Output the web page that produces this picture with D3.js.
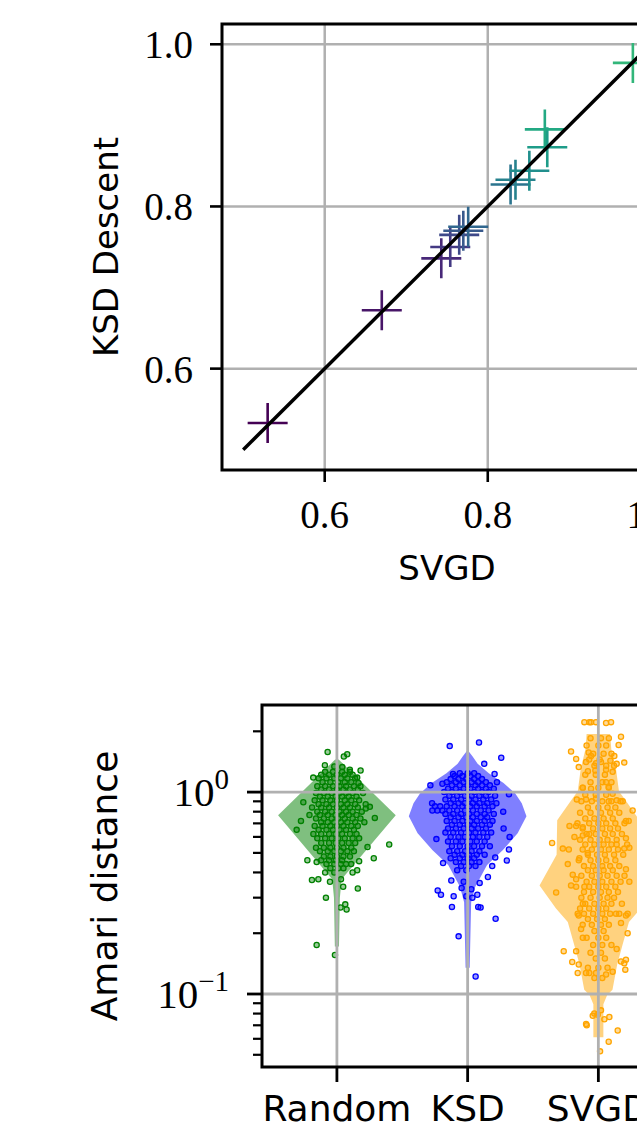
<!DOCTYPE html>
<html>
<head>
<meta charset="utf-8">
<script src="https://cdn.jsdelivr.net/npm/d3@7"></script>
<style>
body { margin: 0; background: #fff; }
svg { display: block; }
.num { font-family: "Liberation Serif", "DejaVu Serif", serif; fill: #000; }
.lab { font-family: "DejaVu Sans", sans-serif; fill: #000; }
</style>
</head>
<body>
<div id="chart"></div>
<script>
// ---- top panel: KSD Descent vs SVGD ----
var svgdScores = [0.530, 0.670, 0.743, 0.754, 0.765, 0.770, 0.776, 0.828, 0.834, 0.851, 0.873, 0.870, 0.978];
var ksdScores  = [0.533, 0.672, 0.736, 0.750, 0.765, 0.770, 0.775, 0.827, 0.833, 0.844, 0.873, 0.895, 0.977];
var scatterTicks = [0.6, 0.8, 1.0];
var identityEnds = [0.5, 1.0];

// ---- bottom panel: Amari distance per method ----
var methods = ["Random", "KSD", "SVGD"];
var methodColors = ["#008000", "#0000ff", "#ffa500"];
var logMajor = [0.1, 1];
var logMinor = [0.05, 0.06, 0.07, 0.08, 0.09, 0.2, 0.3, 0.4, 0.5, 0.6, 0.7, 0.8, 0.9, 2];

// violin outlines: [value, relative half width]
var randomShape = [[1.45, 0.03], [0.768, 1.0], [0.37, 0.08], [0.30, 0.05], [0.172, 0.035]];
var ksdShape = [[1.614, 0.0], [1.50, 0.085], [1.38, 0.17], [1.24, 0.36], [1.11, 0.61], [0.985, 0.81],
  [0.88, 0.92], [0.76, 1.0], [0.625, 0.85], [0.516, 0.6], [0.435, 0.33], [0.34, 0.13], [0.285, 0.06], [0.135, 0.035]];
var svgdShape = [[1.94, 0.2], [1.63, 0.22], [1.30, 0.30], [1.01, 0.35], [0.93, 0.44], [0.725, 0.70], [0.49, 0.71],
  [0.345, 1.0], [0.265, 0.72], [0.227, 0.52], [0.175, 0.41], [0.14, 0.32], [0.105, 0.24], [0.099, 0.15],
  [0.089, 0.085], [0.061, 0.085]];

// scattered runs: [jitter, value]
var randomOuter = [[-0.071,1.58],[0.079,1.54],[0.053,1.50],[-0.092,1.36],[0.181,1.28],[0.099,1.29],[0.041,1.33],
  [-0.02,1.34],[-0.181,1.18],[0.155,1.18],[0.165,1.11],[-0.257,0.89],[-0.275,0.72],[-0.308,0.65],[0.29,0.745],
  [0.252,0.845],[0.221,0.83],[0.40,0.55],[0.234,0.535],[0.282,0.47],[-0.226,0.46],[-0.155,0.45],[0.155,0.41],
  [0.12,0.40],[0.109,0.44],[0.17,0.455],[-0.191,0.367],[-0.142,0.37],[-0.053,0.36],[0.031,0.37],[0.048,0.34],
  [0.16,0.333],[-0.084,0.30],[0.064,0.278],[0.028,0.268],[0.074,0.262],[-0.155,0.175],[-0.015,0.156]];
// dense middle: [value, jitters]
var randomCore = [[1.26,[-0.09,-0.03,0.04,0.10]],[1.22,[-0.12,-0.06,0.0,0.06,0.12]],
  [1.17,[-0.14,-0.08,-0.02,0.03,0.08,0.14]],[1.12,[-0.11,-0.05,0.01,0.06,0.11]],
  [1.07,[-0.15,-0.09,-0.03,0.02,0.07,0.13,0.18]],[1.03,[-0.12,-0.06,0.0,0.05,0.10,0.16]],
  [0.99,[-0.16,-0.10,-0.04,0.02,0.07,0.12,0.2]],[0.95,[-0.13,-0.07,-0.01,0.04,0.09,0.15]],
  [0.91,[-0.17,-0.11,-0.05,0.0,0.06,0.11,0.17]],[0.87,[-0.14,-0.08,-0.03,0.03,0.08,0.14,0.22]],
  [0.84,[-0.19,-0.12,-0.06,0.0,0.05,0.10,0.16]],[0.80,[-0.15,-0.09,-0.04,0.02,0.07,0.12,0.19]],
  [0.77,[-0.21,-0.13,-0.07,-0.01,0.04,0.09,0.15]],[0.74,[-0.16,-0.10,-0.04,0.01,0.06,0.12,0.18]],
  [0.71,[-0.12,-0.07,-0.02,0.03,0.08,0.14,0.21]],[0.68,[-0.17,-0.11,-0.05,0.0,0.05,0.11,0.16]],
  [0.65,[-0.14,-0.08,-0.03,0.02,0.07,0.13]],[0.62,[-0.18,-0.12,-0.06,-0.01,0.04,0.10,0.15]],
  [0.59,[-0.15,-0.09,-0.04,0.01,0.06,0.12,0.17]],[0.56,[-0.12,-0.06,-0.01,0.04,0.09,0.14]],
  [0.53,[-0.16,-0.10,-0.05,0.0,0.05,0.11]],[0.51,[-0.13,-0.07,-0.02,0.03,0.08,0.13]],
  [0.48,[-0.10,-0.05,0.0,0.05,0.10]],[0.46,[-0.12,-0.06,-0.01,0.04]],[0.44,[-0.08,-0.02,0.03,0.07]],
  [0.42,[-0.05,0.01,0.05]],[0.40,[-0.09,-0.02]]];

var ksdOuter = [[-0.137,1.69],[0.087,1.76],[0.257,1.48],[0.127,1.38],[0.206,1.23],[0.224,1.12],[-0.285,1.08],
  [-0.193,1.10],[-0.112,1.23],[0.316,0.975],[-0.272,0.88],[-0.27,0.81],[-0.232,0.81],[-0.193,0.81],[0.272,0.80],
  [0.275,0.66],[0.321,0.60],[-0.239,0.585],[0.316,0.52],[0.211,0.475],[0.30,0.458],[-0.188,0.445],[0.188,0.43],
  [-0.125,0.365],[0.155,0.38],[0.092,0.355],[-0.229,0.326],[-0.204,0.31],[-0.107,0.305],[-0.12,0.27],[0.074,0.31],
  [0.081,0.27],[0.099,0.268],[0.214,0.236],[-0.069,0.193],[0.061,0.122],[0.028,0.33],[-0.01,0.305],[0.036,0.30],
  [-0.046,0.335],[-0.03,0.36]];
var ksdCore = [[1.24,[-0.06,0.0,0.05]],[1.20,[-0.10,-0.04,0.02,0.08]],[1.16,[-0.13,-0.07,-0.01,0.05,0.11]],
  [1.12,[-0.16,-0.09,-0.03,0.03,0.08,0.14]],[1.08,[-0.12,-0.06,0.0,0.06,0.11,0.17]],
  [1.04,[-0.15,-0.09,-0.03,0.02,0.08,0.14,0.2]],[1.00,[-0.18,-0.12,-0.06,0.0,0.05,0.11,0.16]],
  [0.96,[-0.14,-0.08,-0.02,0.03,0.09,0.14,0.21]],[0.92,[-0.17,-0.11,-0.05,0.01,0.06,0.12,0.18]],
  [0.88,[-0.13,-0.07,-0.02,0.04,0.09,0.15,0.22]],[0.85,[-0.25,-0.21,-0.16,-0.10,-0.04,0.02,0.07,0.13,0.19]],
  [0.81,[-0.14,-0.08,-0.02,0.04,0.10,0.16]],[0.78,[-0.17,-0.11,-0.05,0.01,0.07,0.13,0.2]],
  [0.75,[-0.13,-0.07,-0.01,0.04,0.10,0.15]],[0.72,[-0.16,-0.10,-0.04,0.02,0.07,0.13,0.19]],
  [0.69,[-0.12,-0.06,0.0,0.05,0.11,0.17]],[0.66,[-0.15,-0.09,-0.03,0.03,0.08,0.14]],
  [0.63,[-0.17,-0.11,-0.05,0.01,0.06,0.12,0.18]],[0.60,[-0.13,-0.07,-0.02,0.04,0.09,0.15]],
  [0.57,[-0.15,-0.09,-0.04,0.02,0.07,0.13]],[0.54,[-0.12,-0.06,0.0,0.05,0.11,0.17]],
  [0.51,[-0.14,-0.08,-0.02,0.03,0.09]],[0.49,[-0.10,-0.04,0.01,0.07,0.13]],[0.47,[-0.13,-0.06,0.0,0.05]],
  [0.45,[-0.09,-0.03,0.03,0.09]],[0.43,[-0.05,0.01,0.06]],[0.41,[-0.08,-0.01]]];

var svgdOuter = [[-0.107,2.22],[-0.069,2.22],[-0.056,2.22],[-0.018,2.22],[0.059,2.20],[0.097,2.22],[0.173,1.88],
  [0.155,1.71],[-0.209,1.59],[-0.17,1.46],[-0.074,1.57],[-0.056,1.51],[0.122,1.51],[0.198,1.40],[0.14,1.38],
  [-0.15,1.33],[-0.094,1.41],[-0.018,1.39],[0.02,1.41],[0.092,1.43],[-0.08,1.27],[-0.023,1.28],[0.059,1.29],
  [0.109,1.26],[0.059,1.12],[-0.119,1.05],[-0.056,1.04],[0.079,1.06],[0.109,0.98],[-0.165,0.92],[-0.094,0.92],
  [-0.018,0.93],[0.079,0.90],[0.140,0.91],[0.186,0.90],[0.262,0.81],[0.232,0.72],[0.211,0.72],[-0.221,0.68],
  [-0.170,0.68],[-0.119,0.67],[-0.354,0.56],[-0.272,0.525],[-0.226,0.52],[-0.183,0.60],[-0.119,0.61],[-0.069,0.62],
  [0.211,0.59],[0.237,0.53],[0.198,0.525],[0.140,0.55],[-0.234,0.44],[-0.145,0.47],[-0.081,0.50],[0.211,0.415],
  [0.237,0.36],[-0.323,0.318],[-0.196,0.39],[-0.170,0.37],[-0.209,0.345],[-0.107,0.34],[-0.119,0.28],[-0.158,0.25],
  [-0.150,0.245],[0.224,0.25],[0.211,0.245],[0.135,0.25],[0.173,0.225],[0.224,0.20],[-0.132,0.21],[-0.119,0.19],
  [-0.265,0.163],[-0.170,0.163],[-0.20,0.144],[-0.150,0.14],[0.211,0.148],[0.198,0.142],[0.206,0.132],[0.173,0.145],
  [0.140,0.167],[-0.158,0.127],[-0.094,0.127],[-0.069,0.127],[-0.018,0.127],[0.059,0.125],[0.109,0.129],
  [-0.031,0.080],[-0.043,0.078],[0.020,0.083],[-0.005,0.079],[0.084,0.077],[0.046,0.075],[-0.094,0.071],
  [-0.089,0.070],[0.148,0.066],[0.079,0.058],[0.013,0.052]];
var svgdCore = [[1.85,[-0.06,0.02,0.08]],[1.70,[-0.09,0.0,0.06]],[1.55,[-0.04,0.04,0.10]],[1.45,[-0.07,0.01]],
  [1.35,[-0.03,0.06,0.12]],[1.22,[-0.10,-0.02,0.05]],[1.12,[-0.06,0.03,0.10]],[1.05,[-0.12,0.0,0.08]],
  [0.97,[-0.10,-0.02,0.06]],[0.90,[-0.13,-0.05,0.03,0.10,0.17]],[0.84,[-0.08,0.0,0.07,0.13]],
  [0.79,[-0.14,-0.06,0.02,0.09,0.16]],[0.74,[-0.10,-0.03,0.04,0.11]],[0.70,[-0.16,-0.07,0.0,0.06,0.13,0.20]],
  [0.66,[-0.12,-0.04,0.03,0.09,0.15]],[0.62,[-0.09,-0.02,0.05,0.11,0.18]],[0.58,[-0.14,-0.06,0.01,0.07,0.14]],
  [0.55,[-0.10,-0.03,0.04,0.10,0.22]],[0.52,[-0.12,-0.05,0.02,0.08,0.15]],[0.49,[-0.08,-0.01,0.05,0.12,0.19]],
  [0.46,[-0.15,-0.06,0.0,0.06,0.13]],[0.43,[-0.11,-0.04,0.03,0.09,0.16]],[0.41,[-0.08,-0.02,0.04,0.11]],
  [0.385,[-0.13,-0.05,0.01,0.07,0.14,0.2]],[0.36,[-0.09,-0.03,0.03,0.10,0.17]],[0.34,[-0.17,-0.07,0.0,0.06,0.13]],
  [0.32,[-0.11,-0.04,0.02,0.08,0.15]],[0.30,[-0.13,-0.06,0.01,0.07,0.12]],[0.28,[-0.10,-0.03,0.04,0.10,0.18]],
  [0.265,[-0.14,-0.07,0.0,0.06]],[0.25,[-0.11,-0.04,0.03,0.09,0.16]],[0.235,[-0.08,-0.01,0.05]],
  [0.22,[-0.12,-0.05,0.02,0.08]],[0.205,[-0.03,0.04]],[0.19,[-0.09,0.0,0.06]],[0.175,[-0.04,0.03,0.10]],
  [0.16,[-0.06,0.02]],[0.15,[-0.02,0.05]],[0.135,[-0.08,0.0,0.07]],[0.12,[-0.03,0.03]]];

var shapes = [randomShape, ksdShape, svgdShape];
var outers = [randomOuter, ksdOuter, svgdOuter];
var cores = [randomCore, ksdCore, svgdCore];

var W = 637, H = 1139;
var gridColor = "#b0b0b0";

var svg = d3.select("#chart").append("svg")
    .attr("width", W)
    .attr("height", H);
svg.append("rect").attr("width", W).attr("height", H).attr("fill", "#fff");

// ================= top panel =================
var p1 = { left: 222, top: 24, right: 672, bottom: 470 };
var xs = d3.scaleLinear().domain([0.474, 1.026]).range([p1.left, p1.right]);
var ys = d3.scaleLinear().domain([0.475, 1.025]).range([p1.bottom, p1.top]);

var g1 = svg.append("g");

g1.selectAll(".vgrid").data(scatterTicks).enter().append("line")
    .attr("x1", function (d) { return xs(d); })
    .attr("x2", function (d) { return xs(d); })
    .attr("y1", p1.top).attr("y2", p1.bottom)
    .attr("stroke", gridColor).attr("stroke-width", 2.5);
g1.selectAll(".hgrid").data(scatterTicks).enter().append("line")
    .attr("y1", function (d) { return ys(d); })
    .attr("y2", function (d) { return ys(d); })
    .attr("x1", p1.left).attr("x2", p1.right)
    .attr("stroke", gridColor).attr("stroke-width", 2.5);

var runs = svgdScores.map(function (d, i) { return { x: d, y: ksdScores[i], i: i }; });
g1.selectAll(".plus").data(runs).enter().append("path")
    .attr("d", "M-20,0H20M0,-20V20")
    .attr("transform", function (d) { return "translate(" + xs(d.x) + "," + ys(d.y) + ")"; })
    .attr("fill", "none")
    .attr("stroke", function (d) { return d3.interpolateViridis(d.i * 0.055); })
    .attr("stroke-width", 2.6);

g1.append("path")
    .attr("d", d3.line().x(function (d) { return xs(d); }).y(function (d) { return ys(d); })(identityEnds))
    .attr("stroke", "#000").attr("stroke-width", 3.4).attr("fill", "none");

g1.append("rect")
    .attr("x", p1.left).attr("y", p1.top)
    .attr("width", p1.right - p1.left).attr("height", p1.bottom - p1.top)
    .attr("fill", "none").attr("stroke", "#000").attr("stroke-width", 3);

g1.selectAll(".xt").data(scatterTicks).enter().append("line")
    .attr("x1", function (d) { return xs(d); }).attr("x2", function (d) { return xs(d); })
    .attr("y1", p1.bottom).attr("y2", p1.bottom + 12)
    .attr("stroke", "#000").attr("stroke-width", 2.6);
g1.selectAll(".yt").data(scatterTicks).enter().append("line")
    .attr("y1", function (d) { return ys(d); }).attr("y2", function (d) { return ys(d); })
    .attr("x1", p1.left - 12).attr("x2", p1.left)
    .attr("stroke", "#000").attr("stroke-width", 2.6);

g1.selectAll(".xl").data(scatterTicks).enter().append("text")
    .attr("class", "num")
    .attr("x", function (d) { return xs(d); })
    .attr("y", 528)
    .attr("text-anchor", "middle")
    .style("font-size", "39px")
    .text(function (d) { return d.toFixed(1); });
g1.selectAll(".yl").data(scatterTicks).enter().append("text")
    .attr("class", "num")
    .attr("x", 193)
    .attr("y", function (d) { return ys(d) + 14; })
    .attr("text-anchor", "end")
    .style("font-size", "39px")
    .text(function (d) { return d.toFixed(1); });

g1.append("text").attr("class", "lab")
    .attr("x", (p1.left + p1.right) / 2).attr("y", 580)
    .attr("text-anchor", "middle").style("font-size", "34px")
    .text("SVGD");
g1.append("text").attr("class", "lab")
    .attr("transform", "translate(118," + (p1.top + p1.bottom) / 2 + ") rotate(-90)")
    .attr("text-anchor", "middle").style("font-size", "34px")
    .text("KSD Descent");

// ================= bottom panel =================
var p2 = { left: 262, top: 705, right: 804, bottom: 1067 };
var xb = d3.scaleLinear().domain([-0.573, 3.573]).range([p2.left, p2.right]);
var yb = d3.scaleLog().domain([0.0435, 2.7]).range([p2.bottom, p2.top]);
var halfW = 0.45 * (xb(1) - xb(0));

var g2 = svg.append("g");

shapes.forEach(function (shape, i) {
    var cx = xb(i);
    var area = d3.area()
        .y(function (d) { return yb(d[0]); })
        .x0(function (d) { return cx - d[1] * halfW; })
        .x1(function (d) { return cx + d[1] * halfW; });
    g2.append("path")
        .attr("d", area(shape))
        .attr("fill", methodColors[i])
        .attr("fill-opacity", 0.5);
});

methods.forEach(function (m, i) {
    var pts = outers[i].slice();
    cores[i].forEach(function (row) {
        row[1].forEach(function (dx) { pts.push([dx, row[0]]); });
    });
    g2.selectAll(".pt" + i).data(pts).enter().append("circle")
        .attr("cx", function (d) { return xb(i + d[0]); })
        .attr("cy", function (d) { return yb(d[1]); })
        .attr("r", 2.6)
        .attr("fill", methodColors[i])
        .attr("fill-opacity", 0.4)
        .attr("stroke", methodColors[i])
        .attr("stroke-width", 1.3);
});

// grid sits above the violins here
g2.selectAll(".bv").data(d3.range(methods.length + 1)).enter().append("line")
    .attr("x1", function (d) { return xb(d); }).attr("x2", function (d) { return xb(d); })
    .attr("y1", p2.top).attr("y2", p2.bottom)
    .attr("stroke", gridColor).attr("stroke-width", 2.8);
g2.selectAll(".bh").data(logMajor).enter().append("line")
    .attr("y1", function (d) { return yb(d); }).attr("y2", function (d) { return yb(d); })
    .attr("x1", p2.left).attr("x2", p2.right)
    .attr("stroke", gridColor).attr("stroke-width", 2.8);

g2.append("rect")
    .attr("x", p2.left).attr("y", p2.top)
    .attr("width", p2.right - p2.left).attr("height", p2.bottom - p2.top)
    .attr("fill", "none").attr("stroke", "#000").attr("stroke-width", 3);

g2.selectAll(".mj").data(logMajor).enter().append("line")
    .attr("y1", function (d) { return yb(d); }).attr("y2", function (d) { return yb(d); })
    .attr("x1", p2.left - 15).attr("x2", p2.left)
    .attr("stroke", "#000").attr("stroke-width", 2.8);
g2.selectAll(".mn").data(logMinor).enter().append("line")
    .attr("y1", function (d) { return yb(d); }).attr("y2", function (d) { return yb(d); })
    .attr("x1", p2.left - 9).attr("x2", p2.left)
    .attr("stroke", "#000").attr("stroke-width", 2.2);
g2.selectAll(".bxt").data(methods).enter().append("line")
    .attr("x1", function (d, i) { return xb(i); }).attr("x2", function (d, i) { return xb(i); })
    .attr("y1", p2.bottom).attr("y2", p2.bottom + 15)
    .attr("stroke", "#000").attr("stroke-width", 2.8);

var yl = g2.selectAll(".byl").data(logMajor).enter().append("text")
    .attr("class", "num")
    .attr("x", 229)
    .attr("y", function (d) { return yb(d) + 14; })
    .attr("text-anchor", "end")
    .style("font-size", "41px");
yl.append("tspan").text("10");
yl.append("tspan")
    .attr("dy", -17)
    .style("font-size", "29px")
    .text(function (d) { return d === 1 ? "0" : "\u22121"; });

g2.selectAll(".bxl").data(methods).enter().append("text")
    .attr("class", "lab")
    .attr("x", function (d, i) { return xb(i); })
    .attr("y", 1121)
    .attr("text-anchor", "middle")
    .style("font-size", "36px")
    .text(function (d) { return d; });

g2.append("text").attr("class", "lab")
    .attr("transform", "translate(117," + (p2.top + p2.bottom) / 2 + ") rotate(-90)")
    .attr("text-anchor", "middle").style("font-size", "36px")
    .text("Amari distance");
</script>
</body>
</html>
